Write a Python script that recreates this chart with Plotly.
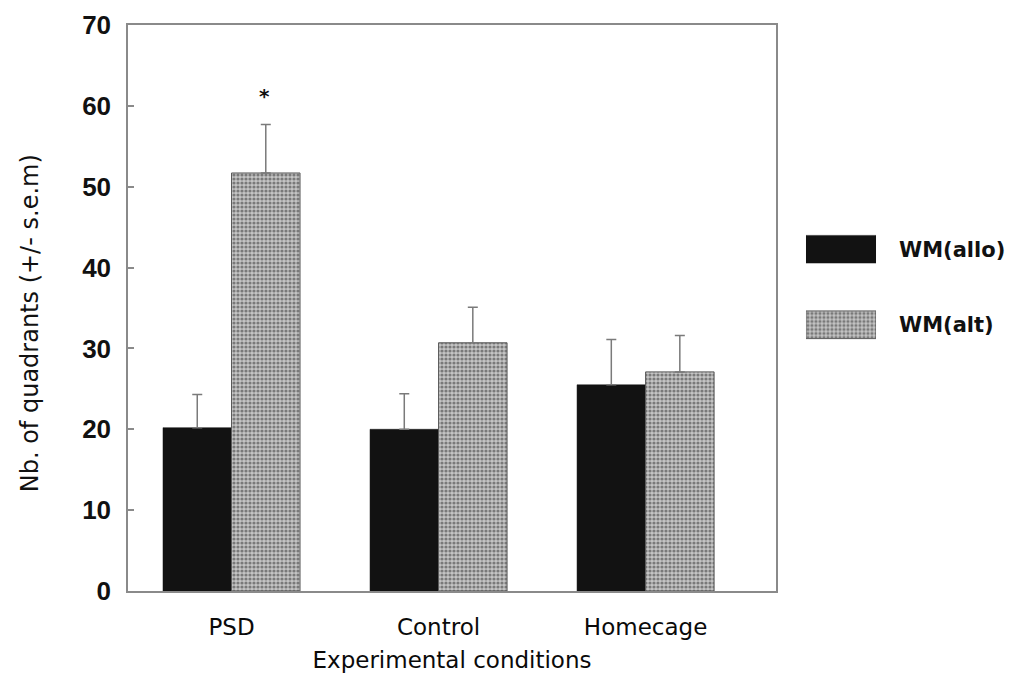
import plotly.graph_objects as go

# Mean number of quadrants visited per condition, with s.e.m.
conditions = ["PSD", "Control", "Homecage"]
wm_allo = [20.2, 20.0, 25.5]
wm_allo_sem = [4.1, 4.4, 5.6]
wm_alt = [51.7, 30.7, 27.1]
wm_alt_sem = [6.0, 4.4, 4.5]
series_names = ["WM(allo)", "WM(alt)"]
y_ticks = [0, 10, 20, 30, 40, 50, 60, 70]
significance_mark = "*"

TEXT_FONT = "DejaVu Sans"
NUM_FONT = "Liberation Sans"

solid_marker = dict(color="#121212", line=dict(color="#121212", width=0.5))
hatched_marker = dict(
    color="#2e2e2e",
    line=dict(color="#5a5a5a", width=1),
    pattern=dict(shape=".", fgcolor="#2e2e2e", bgcolor="#c4c4c4", size=4, solidity=0.5),
)
err_style = dict(type="data", symmetric=False, color="#7a7a7a", thickness=1.5, width=5)

fig = go.Figure()
fig.add_trace(go.Bar(
    x=conditions, y=wm_allo, name=series_names[0], marker=solid_marker,
    error_y=dict(array=wm_allo_sem, arrayminus=[0] * len(wm_allo), **err_style),
    showlegend=False,
))
fig.add_trace(go.Bar(
    x=conditions, y=wm_alt, name=series_names[1], marker=hatched_marker,
    error_y=dict(array=wm_alt_sem, arrayminus=[0] * len(wm_alt), **err_style),
    showlegend=False,
))

# Legend keys drawn as swatches on a small helper axis, labels on its right side
for name, mk in zip(series_names, [solid_marker, hatched_marker]):
    fig.add_trace(go.Bar(
        x=[1], y=[name], orientation="h", xaxis="x2", yaxis="y2",
        width=0.366, offsetgroup="key", marker=mk, showlegend=False, hoverinfo="skip",
    ))

# Significance marker above the PSD WM(alt) bar
fig.add_annotation(
    x=conditions[0], y=wm_alt[0] + wm_alt_sem[0] + 3.0, xref="x", yref="y",
    text=significance_mark, showarrow=False, xshift=33, yshift=4,
    font=dict(family=TEXT_FONT, size=20, color="#111", weight="bold"),
)

# Y axis title
fig.add_annotation(
    x=-0.1115, y=0.473, xref="paper", yref="paper", textangle=-90,
    text="Nb. of quadrants (+/- s.e.m)", showarrow=False,
    xanchor="center", yanchor="middle",
    font=dict(family=TEXT_FONT, size=24, color="#111"),
)

fig.update_layout(
    width=1017, height=684,
    margin=dict(l=128, r=10, t=18, b=93),
    paper_bgcolor="white", plot_bgcolor="white",
    barmode="group", bargap=0.338, bargroupgap=0,
    xaxis=dict(
        domain=[0, 0.7372], range=[-0.5, 2.63],
        showline=True, mirror=True, linecolor="#8a8a8a", linewidth=1.5,
        ticks="", showgrid=False, zeroline=False,
        tickfont=dict(family=TEXT_FONT, size=23, color="#0a0a0a"),
        ticklabelstandoff=15,
        title=dict(text="Experimental conditions", standoff=13,
                   font=dict(family=TEXT_FONT, size=23, color="#0a0a0a")),
    ),
    yaxis=dict(
        range=[0, 70], tickvals=y_ticks,
        showline=True, mirror=True, linecolor="#8a8a8a", linewidth=1.5,
        ticks="inside", ticklen=6, tickcolor="#8a8a8a", tickwidth=1.5,
        showgrid=False, zeroline=False,
        tickfont=dict(family=NUM_FONT, size=26, color="#111", weight="bold"),
        ticklabelstandoff=10,
    ),
    xaxis2=dict(
        domain=[0.7713, 0.8510], range=[0, 1], anchor="y2",
        visible=False, showgrid=False, zeroline=False,
    ),
    yaxis2=dict(
        domain=[0.4036, 0.6706], anchor="x2", side="right",
        type="category", categoryorder="array",
        categoryarray=series_names[::-1], range=[-0.5, 1.5],
        showline=False, ticks="", showgrid=False, zeroline=False,
        tickfont=dict(family=TEXT_FONT, size=21, color="#111", weight="bold"),
        ticklabelstandoff=22,
    ),
)

fig.write_html("out.html")
